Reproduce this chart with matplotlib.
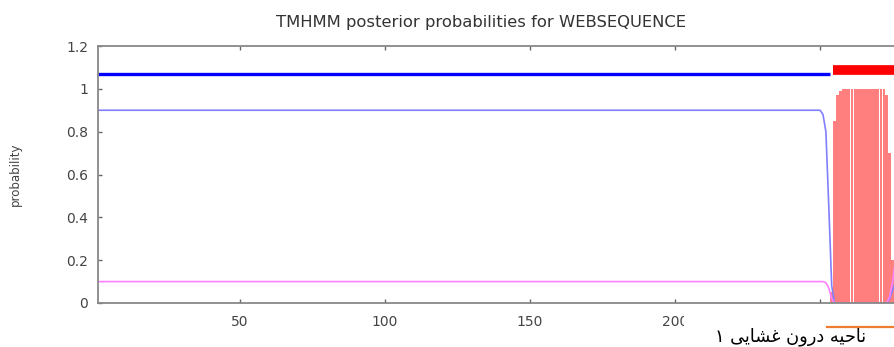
import matplotlib
matplotlib.use('Agg')
import matplotlib.pyplot as plt
from matplotlib.patches import Rectangle

# 数据: 残基位置和后验概率
seq_len = 280
inside_pos = [1, 250, 251, 252, 253, 254, 255, 273, 274, 275, 276, 280]
inside_val = [0.9, 0.9, 0.88, 0.8, 0.45, 0.08, 0.0, 0.0, 0.02, 0.06, 0.1, 0.1]
outside_pos = [1, 251, 252, 253, 254, 255, 273, 274, 275, 276, 280]
outside_val = [0.1, 0.1, 0.095, 0.07, 0.02, 0.0, 0.0, 0.03, 0.1, 0.2, 0.2]
tm_pos = list(range(254, 277))
tm_val = [0.05, 0.85, 0.97, 0.99, 1.0, 1.0, 1.0, 1.0, 1.0, 1.0, 1.0, 1.0,
          1.0, 1.0, 1.0, 1.0, 1.0, 1.0, 1.0, 0.97, 0.7, 0.2, 0.03]

# 拓扑条带 (顶部)
inside_seg = (1, 253.4)
tm_seg = (254.5, 280)

x_ticks = [50, 100, 150, 200, 250]
x_ticklabels = ['50', '100', '150', '200', '']  # 250 被注释遮住
y_ticks = [0, 0.2, 0.4, 0.6, 0.8, 1, 1.2]
y_ticklabels = ['0', '0.2', '0.4', '0.6', '0.8', '1', '1.2']

title = 'TMHMM posterior probabilities for WEBSEQUENCE'
note = 'ناحیه درون غشایی ۱'
# matplotlib 不做阿拉伯文连写/从右到左, 这里手动写成显示顺序的字形
note_visual = ('\u06F1 ' + '\uFBFD\uFBFE\uFE8E\uFEB8\uFECF' + ' '
               + '\uFEE5\uFEED\uFEAD\uFEA9' + ' '
               + '\uFEEA\uFBFF\uFEA3\uFE8E\uFEE7')

W, H = 894, 347
fig = plt.figure(figsize=(W / 100, H / 100), dpi=100)
ax = fig.add_axes([98 / W, 44 / H, (seq_len - 1) * 2.9 / W, 257 / H])

ax.bar(tm_pos, tm_val, width=0.96, color='#ff7f7f', linewidth=0, zorder=1)
ax.plot(inside_pos, inside_val, color='#8080ff', lw=1.2, zorder=2)
ax.plot(outside_pos, outside_val, color='#ff80ff', lw=1.2, zorder=2)
ax.plot(inside_seg, [1.07, 1.07], color='#0000ff', lw=2.4, solid_capstyle='butt')
ax.plot(tm_seg, [1.09, 1.09], color='#ff0000', lw=7, solid_capstyle='butt')

ax.set_xlim(1, seq_len)
ax.set_ylim(0, 1.2)
ax.set_xticks(x_ticks)
ax.set_xticklabels(x_ticklabels)
ax.set_yticks(y_ticks)
ax.set_yticklabels(y_ticklabels)
ax.tick_params(direction='in', length=3, width=1, color='#666666',
               labelcolor='#444444', labelsize=10, pad=7,
               top=True, right=True)
ax.tick_params(axis='x', pad=9)
for s in ax.spines.values():
    s.set_color('#888888')
    s.set_linewidth(1.3)
ax.set_ylabel('probability', fontsize=8.5, color='#444444')
ax.yaxis.set_label_coords(-0.094, 0.5)

fig.text(481 / W, 1 - 22 / H, title, ha='center', va='center',
         fontsize=11.8, color='#333333')

# 底部右侧的白底注释
fig.patches.append(Rectangle((684 / W, 0), 1, 37 / H, transform=fig.transFigure,
                             facecolor='white', edgecolor='none', zorder=5))
fig.add_artist(plt.Line2D([827 / W, 1], [1 - 327 / H] * 2, color='#ed7d31',
                          lw=1.6, zorder=6))
fig.text(866 / W, 1 - 337 / H, note_visual, ha='right', va='center',
         fontsize=12.8, color='black', family=['DejaVu Sans'], zorder=7)

plt.savefig('out.png', dpi=100)
